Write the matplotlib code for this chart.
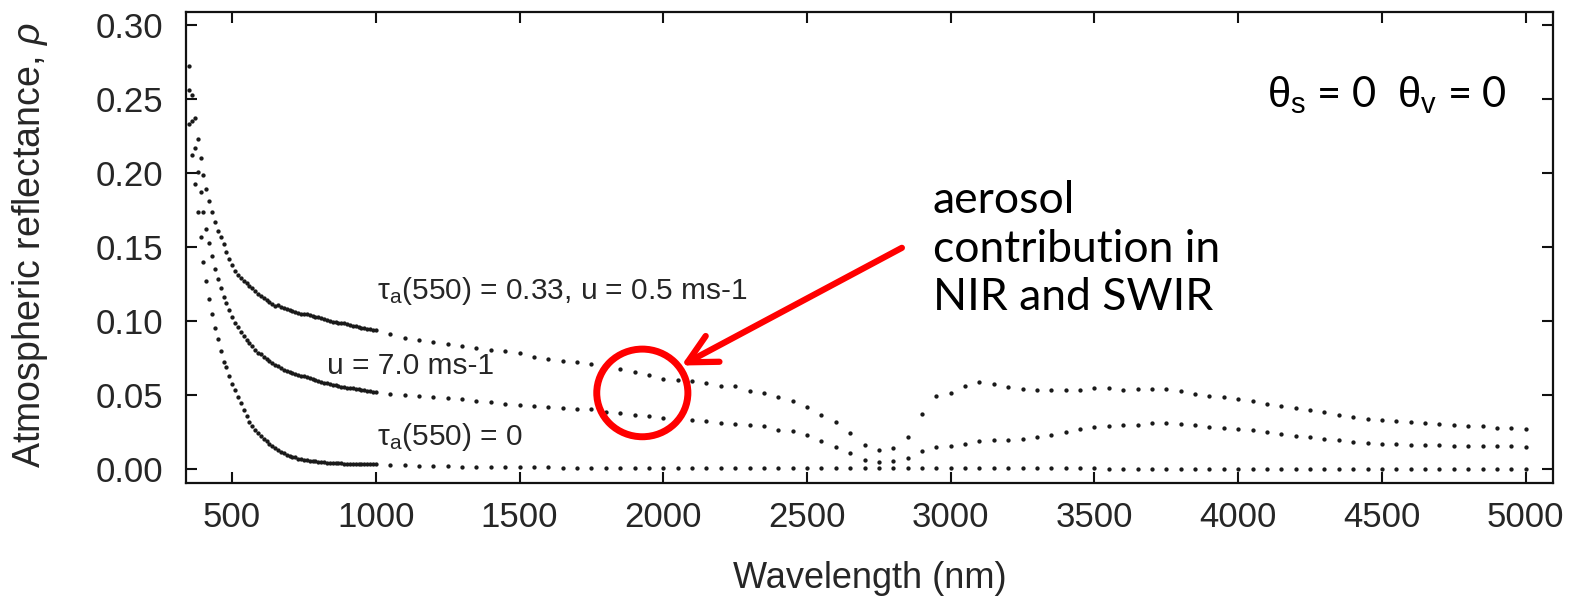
import numpy as np
import matplotlib
matplotlib.use("Agg")
import matplotlib.pyplot as plt
from matplotlib.patches import Ellipse
from matplotlib.ticker import FormatStrFormatter

plt.rcParams["font.family"] = ["Liberation Sans", "DejaVu Sans"]
plt.rcParams["mathtext.fontset"] = "custom"
plt.rcParams["mathtext.rm"] = "Liberation Sans"
plt.rcParams["mathtext.it"] = "Liberation Sans:italic"
plt.rcParams["mathtext.bf"] = "Liberation Sans:bold"

# ---- data -----------------------------------------------------------------
# fine sampling (10 nm) in the visible / NIR
wl_fine = np.arange(350, 1001, 10)
# coarse sampling (50 nm) out to 5 um
wl_coarse = np.arange(1050, 5001, 50)

# tau_a(550) = 0.33, u = 0.5 m/s
rho_aer_fine = [
    0.272, 0.253, 0.237, 0.223, 0.210, 0.199, 0.189, 0.181, 0.174, 0.167,
    0.161, 0.157, 0.152, 0.147, 0.142, 0.138, 0.134, 0.131, 0.129, 0.127,
    0.1255, 0.124, 0.1225, 0.1205, 0.118, 0.117, 0.1155, 0.1143, 0.1128, 0.1118,
    0.1105, 0.1108, 0.1095, 0.1088, 0.1085, 0.1078, 0.1070, 0.1062, 0.1055, 0.1051,
    0.1048, 0.1050, 0.1040, 0.1035, 0.1030, 0.1025, 0.1020, 0.1014, 0.1008, 0.1003,
    0.0997, 0.0994, 0.0990, 0.0986, 0.0984, 0.0981, 0.0975, 0.0969, 0.0964, 0.0958,
    0.0955, 0.0952, 0.0948, 0.0945, 0.0942, 0.0940,
]
rho_aer_coarse = [
    0.0913, 0.0886, 0.0873, 0.0857, 0.0846, 0.0830, 0.0816, 0.0805, 0.0796, 0.0783,
    0.0760, 0.0745, 0.0733, 0.0722, 0.0711, 0.0695, 0.0678, 0.0657, 0.0633, 0.0610,
    0.0600, 0.0594, 0.0580, 0.0565, 0.0560, 0.0530, 0.0514, 0.0490, 0.0460, 0.0422,
    0.0368, 0.0318, 0.0247, 0.0166, 0.0132, 0.0146, 0.0217, 0.0375, 0.0491, 0.0514,
    0.0565, 0.0588, 0.0577, 0.0554, 0.0543, 0.0536, 0.0536, 0.0538, 0.0538, 0.0547,
    0.0547, 0.0538, 0.0543, 0.0543, 0.0543, 0.0527, 0.0511, 0.0495, 0.0489, 0.0473,
    0.0459, 0.0443, 0.0425, 0.0414, 0.0398, 0.0386, 0.0368, 0.0352, 0.0341, 0.0330,
    0.0325, 0.0318, 0.0314, 0.0307, 0.0300, 0.0291, 0.0289, 0.0280, 0.0277, 0.0273,
]

# u = 7.0 m/s
rho_wind_fine = [
    0.256, 0.235, 0.217, 0.201, 0.187, 0.174, 0.162, 0.153, 0.144, 0.135,
    0.1285, 0.1225, 0.116, 0.112, 0.1075, 0.103, 0.099, 0.0958, 0.0925, 0.0898,
    0.0875, 0.0855, 0.0830, 0.0808, 0.0788, 0.0775, 0.0758, 0.0745, 0.0731, 0.0718,
    0.0706, 0.0694, 0.0683, 0.0673, 0.0665, 0.0658, 0.0651, 0.0644, 0.0637, 0.0631,
    0.0626, 0.0620, 0.0614, 0.0608, 0.0602, 0.0596, 0.0589, 0.0584, 0.0580, 0.0575,
    0.0571, 0.0567, 0.0563, 0.0558, 0.0554, 0.0550, 0.0548, 0.0546, 0.0543, 0.0540,
    0.0537, 0.0534, 0.0530, 0.0527, 0.0523, 0.0520,
]
rho_wind_coarse = [
    0.0509, 0.0503, 0.0494, 0.0487, 0.0480, 0.0471, 0.0460, 0.0453, 0.0442, 0.0431,
    0.0424, 0.0419, 0.0413, 0.0408, 0.0404, 0.0386, 0.0381, 0.0363, 0.0357, 0.0348,
    0.0341, 0.0330, 0.0325, 0.0314, 0.0307, 0.0296, 0.0289, 0.0267, 0.0256, 0.0229,
    0.0190, 0.0150, 0.0106, 0.0060, 0.0049, 0.0056, 0.0076, 0.0121, 0.0150, 0.0155,
    0.0173, 0.0188, 0.0195, 0.0195, 0.0206, 0.0220, 0.0233, 0.0251, 0.0269, 0.0285,
    0.0292, 0.0296, 0.0300, 0.0312, 0.0314, 0.0303, 0.0296, 0.0285, 0.0278, 0.0269,
    0.0262, 0.0251, 0.0240, 0.0222, 0.0216, 0.0205, 0.0198, 0.0186, 0.0177, 0.0170,
    0.0168, 0.0166, 0.0163, 0.0161, 0.0159, 0.0157, 0.0156, 0.0155, 0.0154, 0.0153,
]

# tau_a(550) = 0 (Rayleigh only)
rho_ray_fine = [
    0.233, 0.212, 0.1925, 0.174, 0.157, 0.140, 0.127, 0.115, 0.105, 0.0956,
    0.088, 0.080, 0.0727, 0.0688, 0.0632, 0.0573, 0.0532, 0.049, 0.0445, 0.040,
    0.0362, 0.0320, 0.0292, 0.0265, 0.0243, 0.0223, 0.0204, 0.0188, 0.0172, 0.0155,
    0.0141, 0.0130, 0.0118, 0.0106, 0.0097, 0.0090, 0.0084, 0.0079, 0.0072, 0.0067,
    0.0063, 0.0060, 0.0057, 0.0054, 0.0052, 0.0050, 0.0048, 0.0046, 0.0044, 0.0043,
    0.0042, 0.0041, 0.0040, 0.0039, 0.0038, 0.0037, 0.0036, 0.0036, 0.0035, 0.0035,
    0.0034, 0.0034, 0.0033, 0.0033, 0.0032, 0.0032,
]
rho_ray_coarse = [
    0.0028, 0.0025, 0.0023, 0.0021, 0.0019, 0.0018, 0.0017, 0.0016, 0.0015, 0.0014,
    0.0013, 0.0012, 0.0011, 0.0011, 0.0010, 0.0010, 0.0009, 0.0009, 0.0008, 0.0008,
    0.0008, 0.0007, 0.0007, 0.0007, 0.0006, 0.0006, 0.0006, 0.0006, 0.0005, 0.0005,
    0.0005, 0.0005, 0.0005, 0.0005, 0.0005, 0.0005, 0.0005, 0.0005, 0.0005, 0.0005,
    0.0005, 0.0005, 0.0005, 0.0005, 0.0005, 0.0005, 0.0005, 0.0005, 0.0005, 0.0005,
    0.0004, 0.0004, 0.0004, 0.0004, 0.0004, 0.0004, 0.0004, 0.0004, 0.0004, 0.0004,
    0.0004, 0.0004, 0.0004, 0.0004, 0.0004, 0.0004, 0.0004, 0.0004, 0.0004, 0.0004,
    0.0004, 0.0004, 0.0004, 0.0004, 0.0004, 0.0004, 0.0004, 0.0004, 0.0004, 0.0004,
]

x_ticks = [500, 1000, 1500, 2000, 2500, 3000, 3500, 4000, 4500, 5000]
y_ticks = [0.00, 0.05, 0.10, 0.15, 0.20, 0.25, 0.30]

# ---- figure ---------------------------------------------------------------
fig = plt.figure(figsize=(15.75, 5.99), dpi=100)
ax = fig.add_axes([0.118, 0.194, 0.868, 0.7865])

dot_kw = dict(linestyle="none", marker="o", markersize=3.1,
              markeredgewidth=0, color="#1a1a1a")
for fine, coarse in [(rho_aer_fine, rho_aer_coarse),
                     (rho_wind_fine, rho_wind_coarse),
                     (rho_ray_fine, rho_ray_coarse)]:
    ax.plot(wl_fine, fine, **dot_kw)
    ax.plot(wl_coarse, coarse, **dot_kw)

ax.set_xlim(339, 5095)
ax.set_ylim(-0.0092, 0.309)
ax.set_xticks(x_ticks)
ax.set_yticks(y_ticks)
ax.yaxis.set_major_formatter(FormatStrFormatter("%.2f"))

txt_col = "#262626"
for s in ax.spines.values():
    s.set_linewidth(1.6)
    s.set_color("#111111")
ax.tick_params(direction="in", length=8, width=1.5, top=True, right=True,
               labelsize=25, labelcolor=txt_col, color="#111111")
ax.tick_params(axis="y", pad=16)
ax.tick_params(axis="x", pad=13)

ax.set_xlabel("Wavelength (nm)", fontsize=26, color=txt_col)
ax.set_ylabel(r"Atmospheric reflectance, $\rho$", fontsize=27, color=txt_col)
ax.xaxis.set_label_coords(0.5, -0.165)
ax.yaxis.set_label_coords(-0.0995, 0.505)

# curve labels
lab_kw = dict(fontsize=21.5, color=txt_col)
ax.text(1003, 0.1205, r"τ$_\mathrm{a}$(550) = 0.33, u = 0.5 ms-1",
        ha="left", va="center", **lab_kw)
ax.text(1411, 0.0700, "u = 7.0 ms-1", ha="right", va="center", **lab_kw)
ax.text(1003, 0.0215, r"τ$_\mathrm{a}$(550) = 0", ha="left", va="center", **lab_kw)

# geometry annotation
ax.text(4935, 0.2443, r"$\mathrm{\theta}_\mathrm{s}$ = 0  $\mathrm{\theta}_\mathrm{v}$ = 0",
        ha="right", va="baseline", fontsize=30, family="Lato", color="black")

# highlighted region and callout
ax.add_patch(Ellipse((1927, 0.0515), width=317, height=0.0592,
                     fill=False, edgecolor="#ff0000", linewidth=5, zorder=5))
ax.annotate("", xy=(2063, 0.070), xytext=(2830, 0.1495),
            arrowprops=dict(arrowstyle="->,head_length=2.05,head_width=1.05",
                            mutation_scale=10, color="#ff0000", lw=4.5,
                            shrinkA=0, shrinkB=0),
            zorder=5)
ax.text(2937, 0.195, "aerosol\ncontribution in\nNIR and SWIR",
        ha="left", va="top", fontsize=32, family="Lato", color="black",
        linespacing=1.22)

fig.savefig("out.png", dpi=100)
